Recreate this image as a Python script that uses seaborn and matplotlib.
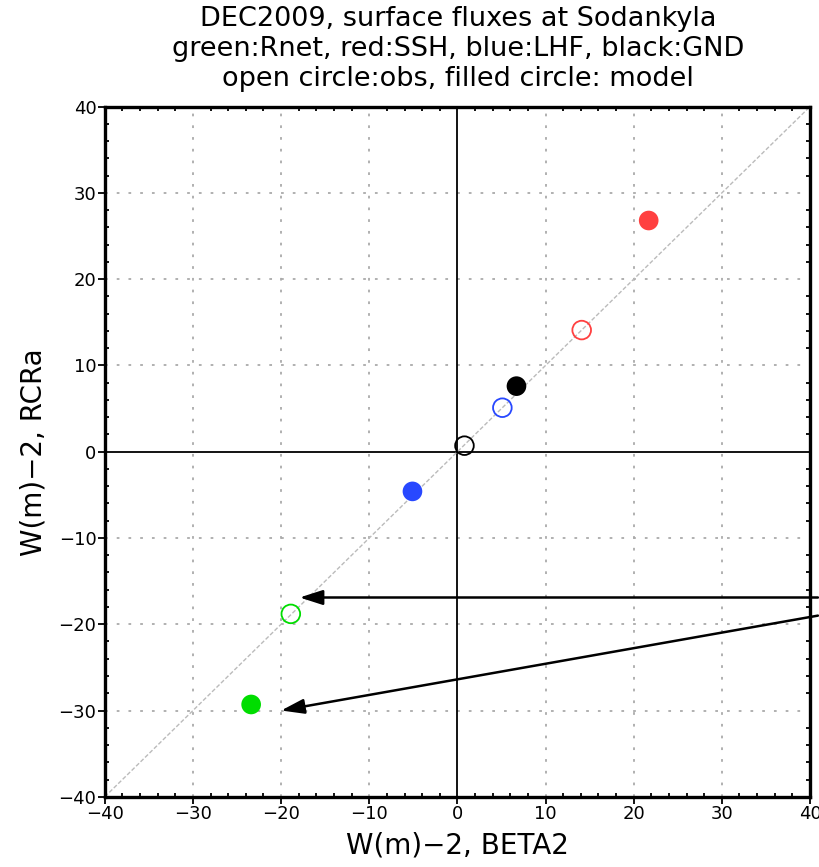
import matplotlib
matplotlib.use("Agg")
import matplotlib.pyplot as plt
import seaborn as sns
import pandas as pd
import numpy as np
from matplotlib.ticker import MultipleLocator

sns.set_style("white")
plt.rcParams["font.family"] = ["DejaVu Sans"]
plt.rcParams["text.color"] = "black"
plt.rcParams["axes.labelcolor"] = "black"
plt.rcParams["xtick.color"] = "black"
plt.rcParams["ytick.color"] = "black"

# Monthly mean surface fluxes (W m-2), BETA2 vs RCRa
fluxes = ["Rnet", "SSH", "LHF", "GND"]
obs_beta2 = [-18.9, 14.1, 5.1, 0.8]
obs_rcra = [-18.8, 14.1, 5.1, 0.7]
model_beta2 = [-23.4, 21.7, -5.1, 6.7]
model_rcra = [-29.3, 26.8, -4.6, 7.6]
colors = {"Rnet": "#00dd00", "SSH": "#ff4040", "LHF": "#2848ff", "GND": "#000000"}

# annotation arrows: (start, end) in data units
arrows = [((40.9, -16.9), (-17.9, -16.9)), ((40.9, -19.0), (-20.0, -30.0))]

obs = pd.DataFrame({"flux": fluxes, "x": obs_beta2, "y": obs_rcra})
model = pd.DataFrame({"flux": fluxes, "x": model_beta2, "y": model_rcra})

fig = plt.figure(figsize=(8.19, 8.67), dpi=100)
ax = fig.add_axes([0.128, 0.081, 0.861, 0.796])

lim = (-40, 40)
ax.set_xlim(lim)
ax.set_ylim(lim)

# dotted grid every 10 units
for v in range(-30, 40, 10):
    if v == 0:
        continue
    ax.axvline(v, color="#aaaaaa", lw=1.3, ls=(0, (1.5, 5)), zorder=0)
    ax.axhline(v, color="#aaaaaa", lw=1.3, ls=(0, (1.5, 5)), zorder=0)

# zero lines and 1:1 line
ax.axvline(0, color="black", lw=1.3, zorder=1)
ax.axhline(0, color="black", lw=1.3, zorder=1)
ax.plot(lim, lim, color="#bbbbbb", lw=1.0, ls=(0, (3, 1.5)), zorder=1)

sns.scatterplot(data=model, x="x", y="y", hue="flux", palette=colors,
                s=200, marker="o", edgecolor="none", legend=False, ax=ax, zorder=3)
sns.scatterplot(data=obs, x="x", y="y", hue="flux", palette=colors,
                s=180, marker="o", legend=False, ax=ax, zorder=3)
# open markers: outline only in the flux colour
coll = ax.collections[-1]
coll.set_edgecolors([colors[f] for f in fluxes])
coll.set_facecolors("none")
coll.set_linewidth(1.3)

for (x0, y0), (x1, y1) in arrows:
    ax.annotate("", xy=(x1, y1), xytext=(x0, y0), annotation_clip=False,
                arrowprops=dict(arrowstyle="-|>,head_length=1.4,head_width=0.45",
                                color="black", lw=1.8, shrinkA=0, shrinkB=0),
                zorder=4)

ax.xaxis.set_minor_locator(MultipleLocator(2))
ax.yaxis.set_minor_locator(MultipleLocator(2))
ax.tick_params(which="major", direction="out", length=5, width=1.3,
               labelsize=13, pad=1, bottom=True, left=True, colors="black")
ax.tick_params(which="minor", direction="in", length=3, width=1.3,
               bottom=True, left=True, top=True, right=True)
ticks = np.arange(-40, 41, 10)
ax.set_xticks(ticks)
ax.set_yticks(ticks)
ax.set_xticklabels([str(v).replace("-", "\u2212") for v in ticks])
ax.set_yticklabels([str(v).replace("-", "\u2212") for v in ticks])
for s in ax.spines.values():
    s.set_linewidth(2.4)
    s.set_color("black")
    s.set_visible(True)

ax.set_xlabel("W(m)\u22122, BETA2", fontsize=20, labelpad=6, color="black")
ax.set_ylabel("W(m)\u22122, RCRa", fontsize=20, labelpad=8, color="black")

fig.text(0.559, 0.993,
         "DEC2009, surface fluxes at Sodankyla\n"
         "green:Rnet, red:SSH, blue:LHF, black:GND\n"
         "open circle:obs, filled circle: model",
         ha="center", va="top", fontsize=19.5, linespacing=1.2, color="black")

fig.savefig("out.png", dpi=100)
